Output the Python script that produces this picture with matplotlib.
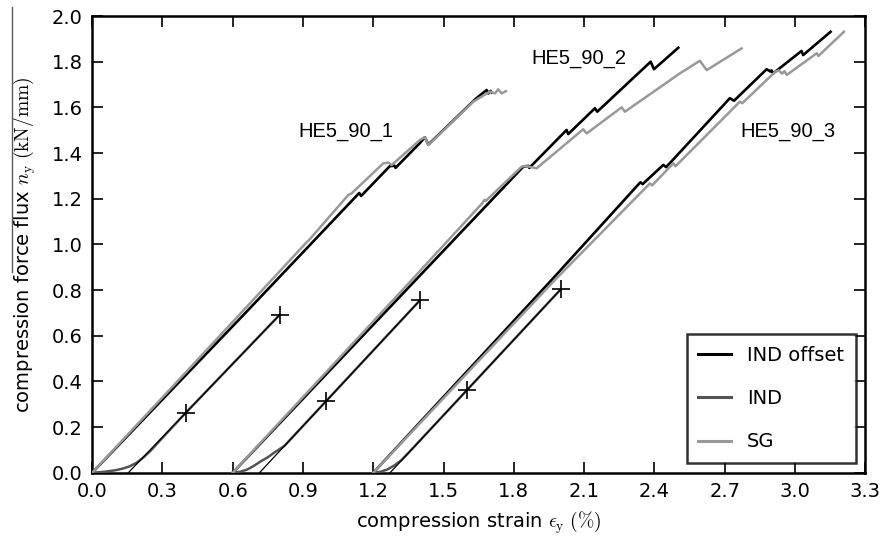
import numpy as np
import matplotlib
matplotlib.use('Agg')
import matplotlib.pyplot as plt
from matplotlib.lines import Line2D

matplotlib.rcParams.update({'font.size': 14, 'mathtext.fontset': 'cm'})

# --- HE5_90_1 ---
ind1_x = [0.0, 0.05, 0.10, 0.13, 0.16, 0.19, 0.22, 0.25, 0.30, 0.40, 0.80]
ind1_y = [0.0, 0.004, 0.011, 0.018, 0.028, 0.044, 0.068, 0.097, 0.153, 0.263, 0.691]
mark1_x = [0.40, 0.80]
mark1_y = [0.263, 0.691]
off1_x = [0.0, 0.645, 1.140, 1.148, 1.270, 1.290, 1.295, 1.400, 1.420, 1.435,
          1.640, 1.684, 1.691, 1.700, 1.705]
off1_y = [0.0, 0.690, 1.225, 1.212, 1.342, 1.345, 1.335, 1.445, 1.469, 1.437,
          1.640, 1.676, 1.661, 1.672, 1.665]
sg1_x = [0.0, 0.40, 0.766, 0.916, 0.925, 1.093, 1.108, 1.243, 1.264, 1.278,
         1.400, 1.420, 1.435, 1.627, 1.698, 1.720, 1.733, 1.748, 1.766]
sg1_y = [0.0, 0.440, 0.844, 1.010, 1.018, 1.216, 1.224, 1.355, 1.358, 1.347,
         1.458, 1.469, 1.435, 1.625, 1.669, 1.661, 1.679, 1.661, 1.671]

# --- HE5_90_2 ---
ind2_x = [0.60, 0.63, 0.66, 0.69, 0.72, 0.75, 0.78, 0.82, 0.90, 1.00, 1.40]
ind2_y = [0.0, 0.004, 0.013, 0.030, 0.050, 0.068, 0.090, 0.117, 0.205, 0.315, 0.756]
mark2_x = [1.00, 1.40]
mark2_y = [0.315, 0.756]
off2_x = [0.60, 1.840, 1.862, 1.866, 2.025, 2.032, 2.146, 2.156, 2.384, 2.398, 2.502]
off2_y = [0.0, 1.340, 1.344, 1.335, 1.501, 1.483, 1.596, 1.581, 1.800, 1.767, 1.861]
sg2_x = [0.60, 1.364, 1.665, 1.675, 1.680, 1.833, 1.850, 1.897, 2.096, 2.111,
         2.260, 2.274, 2.509, 2.594, 2.623, 2.772]
sg2_y = [0.0, 0.844, 1.180, 1.195, 1.190, 1.340, 1.344, 1.333, 1.504, 1.486,
         1.600, 1.581, 1.749, 1.804, 1.763, 1.858]

# --- HE5_90_3 ---
ind3_x = [1.20, 1.23, 1.26, 1.29, 1.32, 1.36, 1.40, 1.60, 2.00]
ind3_y = [0.0, 0.004, 0.014, 0.032, 0.055, 0.098, 0.142, 0.362, 0.803]
mark3_x = [1.60, 2.00]
mark3_y = [0.362, 0.803]
off3_x = [1.20, 1.961, 2.340, 2.350, 2.438, 2.450, 2.722, 2.740, 2.879, 2.895,
          2.900, 2.907, 3.028, 3.035, 3.152]
off3_y = [0.0, 0.844, 1.272, 1.264, 1.348, 1.338, 1.640, 1.629, 1.767, 1.757,
          1.762, 1.749, 1.847, 1.829, 1.931]
sg3_x = [1.20, 1.975, 2.381, 2.390, 2.481, 2.490, 2.765, 2.775, 2.915, 2.930,
         2.945, 2.955, 2.965, 3.093, 3.100, 3.209]
sg3_y = [0.0, 0.844, 1.267, 1.258, 1.355, 1.342, 1.625, 1.618, 1.755, 1.762,
         1.748, 1.758, 1.742, 1.837, 1.825, 1.931]

labels = ['HE5_90_1', 'HE5_90_2', 'HE5_90_3']
label_x = [0.879, 1.876, 2.765]
label_y = [1.493, 1.815, 1.493]

xticks = np.arange(0, 3.31, 0.3)
yticks = np.arange(0, 2.01, 0.2)

fig = plt.figure(figsize=(8.83, 5.41), dpi=100)
ax = fig.add_axes([0.1044, 0.1262, 0.8755, 0.8442])

specimens = [
    (ind1_x, ind1_y, mark1_x, mark1_y, off1_x, off1_y, sg1_x, sg1_y),
    (ind2_x, ind2_y, mark2_x, mark2_y, off2_x, off2_y, sg2_x, sg2_y),
    (ind3_x, ind3_y, mark3_x, mark3_y, off3_x, off3_y, sg3_x, sg3_y),
]
for i, (ix, iy, mx, my, ox, oy, sx, sy) in enumerate(specimens):
    ax.plot(ox, oy, color='k', lw=1.9, zorder=2, label='IND offset' if i == 0 else None)
    ax.plot(ix, iy, color='0.33', lw=1.8, zorder=3, label='IND' if i == 0 else None)
    ax.plot(sx, sy, color='0.6', lw=1.8, zorder=4, label='SG' if i == 0 else None)
    # linear fit between the two markers, extended down to zero load
    k, d = np.polyfit(mx, my, 1)
    x0 = -d / k
    ax.plot([x0, mx[1]], [0, k * mx[1] + d], color='k', lw=0.9, zorder=5)
    ax.plot(mx, my, '+', color='k', ms=13, mew=1.2, zorder=6)

for t, lx, ly in zip(labels, label_x, label_y):
    ax.text(lx, ly, t, family='Liberation Sans', fontsize=14.5, va='center', ha='left')

ax.set_xlim(0, 3.3)
ax.set_ylim(0, 2.0)
ax.set_xticks(xticks)
ax.set_yticks(yticks)
ax.xaxis.set_major_formatter(matplotlib.ticker.FormatStrFormatter('%.1f'))
ax.yaxis.set_major_formatter(matplotlib.ticker.FormatStrFormatter('%.1f'))
ax.tick_params(direction='in', top=True, right=True, length=8, width=1.2, pad=7)
for s in ax.spines.values():
    s.set_linewidth(1.8)

ax.set_xlabel(r'compression strain $\epsilon_\mathrm{y}\ (\%)$', labelpad=6)
ax.set_ylabel(r'compression force flux $n_\mathrm{y}\ (\mathrm{kN/mm})$')
ax.yaxis.set_label_coords(-0.070, 0.5)

leg = ax.legend(loc='lower right', fancybox=False, handlelength=1.7,
                borderpad=0.6, labelspacing=1.25, borderaxespad=0.5)
leg.get_frame().set_edgecolor('k')
leg.get_frame().set_linewidth(1.8)
for h in leg.get_lines():
    h.set_linewidth(2.2)

fig.add_artist(Line2D([12 / 883, 12 / 883], [1 - 7 / 541, 1 - 272 / 541], color='0.35', lw=1))

fig.savefig('out.png', dpi=100)
